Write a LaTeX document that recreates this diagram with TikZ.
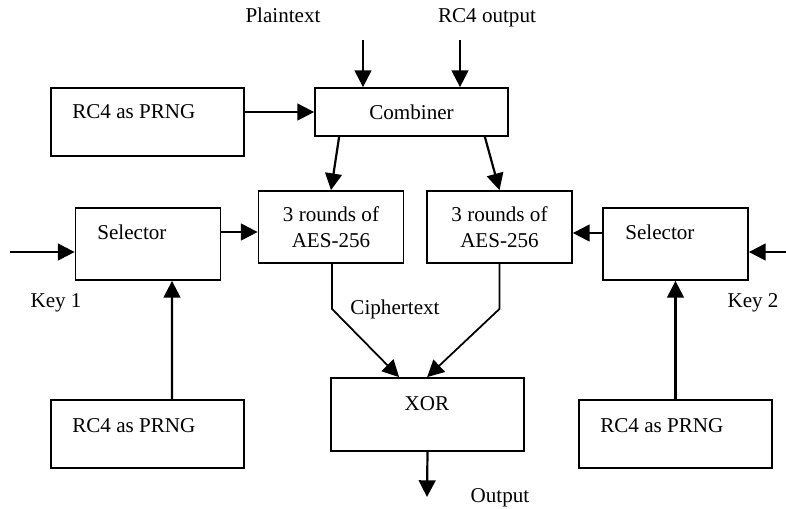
\documentclass[tikz,border=0pt]{standalone}
\usepackage{fontspec}
\setmainfont{Liberation Serif}
\usetikzlibrary{arrows.meta, calc, positioning}

\begin{document}
\begin{tikzpicture}[x=0.2mm, y=-0.2mm, font=\fontsize{12}{14.5}\selectfont,
    blk/.style={draw, line width=1pt, inner sep=0pt},
    wide/.style={minimum width=38.6mm},
    narrow/.style={minimum width=29mm, minimum height=14.4mm},
    txt/.style={inner sep=0pt, anchor=base west},
    arr/.style={line width=1.25pt, -{Triangle[length=9.5pt, width=9.5pt]}},
    cip/.style={line width=1pt, -{Triangle[length=9.5pt, width=9.5pt]}}]
  \useasboundingbox (0,0) rectangle (786,508);

  % Top row
  \node[blk, wide, minimum height=13.6mm] (rcTop) at (147.5,122) {};
  \node[txt] (rcTopT) at (72,118) {RC4 as PRNG};
  \node[blk, wide, minimum height=9.6mm] (comb) at (411.5,112) {Combiner};
  \node[inner sep=0pt, anchor=base] (plainT) at (283,22) {Plaintext};
  \node[inner sep=0pt, anchor=base] (rcOutT) at (487,22) {RC4 output};
  \coordinate (plainIn) at (363,40);
  \coordinate (rcOutIn) at (460,40);

  % AES rounds
  \node[blk, narrow, align=center] (aesL) at (331,227) {3 rounds of\\AES-256};
  \node[blk, narrow, align=center] (aesR) at (499.5,227) {3 rounds of\\AES-256};

  % Selectors and keys
  \node[blk, narrow] (selL) at (148,244) {};
  \node[txt] (selLT) at (97,239) {Selector};
  \node[blk, narrow] (selR) at (675.5,244) {};
  \node[txt] (selRT) at (625,239) {Selector};
  \coordinate (keyL) at (10,252);
  \coordinate (keyR) at (786,252);
  \node[inner sep=0pt, anchor=base] (keyLT) at (56,307) {Key 1};
  \node[inner sep=0pt, anchor=base] (keyRT) at (753,307) {Key 2};

  % Bottom row
  \node[blk, wide, minimum height=13.6mm] (rcBL) at (147.5,434) {};
  \node[txt] (rcBLT) at (72,432) {RC4 as PRNG};
  \node[blk, wide, minimum height=13.6mm] (rcBR) at (675.5,434) {};
  \node[txt] (rcBRT) at (600,432) {RC4 as PRNG};
  \node[blk, wide, minimum height=14.6mm] (xor) at (427.5,414.5) {};
  \node[inner sep=0pt, anchor=base] (xorT) at (427,410) {XOR};
  \node[inner sep=0pt, anchor=base] (cipT) at (395,314) {Ciphertext};
  \node[inner sep=0pt, anchor=base] (outT) at (500,502) {Output};
  \coordinate (out) at (427,497);

  % Connectors
  \draw[arr] (plainIn) -- (plainIn |- comb.north);
  \draw[arr] (rcOutIn) -- (rcOutIn |- comb.north);
  \draw[arr] (rcTop.east |- comb.west) -- (comb.west);
  \draw[arr] ($(comb.south west)+(25,0)$) -- (aesL.north);
  \draw[arr] ($(comb.south east)+(-24,0)$) -- (aesR.north);
  \draw[arr] (keyL) -- (selL.west |- keyL);
  \draw[arr] (keyR) -- (selR.east |- keyR);
  \draw[arr] ($(selL.east)+(0,-12)$) -- ($(aesL.west)+(0,5)$);
  \draw[arr] ($(selR.west)+(0,-11)$) -- ($(aesR.east)+(0,6)$);
  \draw[arr] ($(rcBL.north)+(24.5,0)$) -- ($(selL.south)+(24,0)$);
  \draw[arr] (rcBR.north) -- (selR.south);
  \draw[cip] ($(aesL.south)+(1,0)$) -- ++(0,45) -- ($(xor.north west)+(69,0)$);
  \draw[cip] (aesR.south) -- ++(0,45) -- ($(xor.north west)+(97,0)$);
  \draw[arr] (xor.south) -- (out);
\end{tikzpicture}
\end{document}
